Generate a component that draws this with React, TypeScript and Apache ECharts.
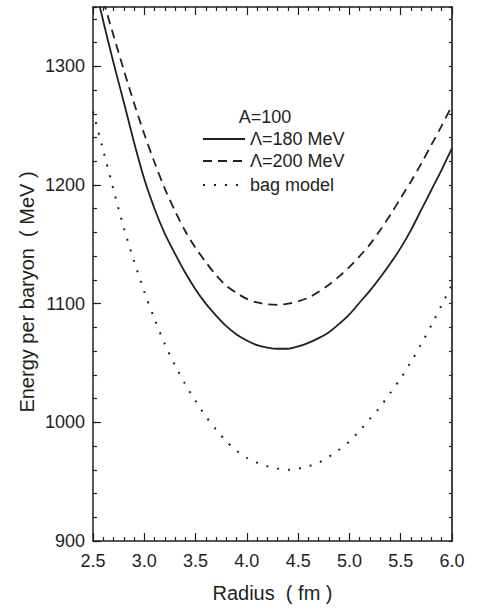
import React, { useEffect, useRef } from "react";
import * as echarts from "echarts";

const radius = [2.5, 2.6, 2.7, 2.8, 2.9, 3.0, 3.1, 3.2, 3.3, 3.4, 3.5, 3.6, 3.7, 3.8, 3.9, 4.0, 4.1, 4.2, 4.3, 4.4, 4.5, 4.6, 4.7, 4.8, 4.9, 5.0, 5.1, 5.2, 5.3, 5.4, 5.5, 5.6, 5.7, 5.8, 5.9, 6.0];
const lambda180 = [1375, 1338, 1303, 1270, 1236, 1205, 1180, 1159, 1142, 1126, 1112, 1100, 1090, 1081, 1074, 1069, 1065, 1063, 1062, 1062, 1064, 1067, 1071, 1076, 1083, 1091, 1101, 1111, 1122, 1134, 1147, 1162, 1179, 1196, 1213, 1231];
const lambda200 = [1392, 1356, 1326, 1297, 1269, 1243, 1219, 1197, 1178, 1161, 1147, 1135, 1124, 1115, 1109, 1104, 1101, 1099.5, 1099, 1100, 1102, 1105, 1110, 1116, 1123, 1131, 1140, 1150, 1162, 1175, 1189, 1203, 1218, 1234, 1250, 1267];
const bagModel = [1262, 1229, 1196, 1164, 1136, 1110, 1087, 1066, 1048, 1032, 1018, 1005, 994, 984, 976, 970, 966, 963, 961, 960, 961, 963, 966, 971, 977, 984, 993, 1003, 1013, 1025, 1037, 1051, 1066, 1082, 1099, 1116];

const xMin = 2.5, xMax = 6.0, xStep = 0.5;
const yMin = 900, yMax = 1350, yStep = 100, yMinorStep = 20;

const legendTitle = "A=100";
const legendNames = ["Λ=180 MeV", "Λ=200 MeV", "bag model"];
const xName = "Radius  ( fm )";
const yName = "Energy per baryon  ( MeV )";

const INK = "#231f20";
const FONT = "'Liberation Sans', Arial, sans-serif";

export default function App() {
  const ref = useRef<HTMLDivElement>(null);
  useEffect(() => {
    document.body.style.margin = "0";
    const chart = echarts.init(ref.current!, null, { renderer: "svg" });
    const pairs = (ys: number[]) => radius.map((x, i) => [x, ys[i]]);
    const lineStyles: any[] = [
      { color: INK, width: 1.8, type: "solid" },
      { color: INK, width: 1.8, type: [9, 6] },
      { color: INK, width: 2, type: [2, 9] },
    ];
    const legendY = [139, 161, 185];
    const graphic: any[] = [
      {
        type: "text",
        x: 265,
        y: 117,
        style: { text: legendTitle, font: `18px ${FONT}`, fill: INK, align: "center", verticalAlign: "middle" },
      },
      {
        type: "text",
        x: 27,
        y: 292,
        rotation: Math.PI / 2,
        style: { text: yName, font: `20px ${FONT}`, fill: INK, align: "center", verticalAlign: "middle" },
      },
    ];
    legendNames.forEach((name, i) => {
      const ls = lineStyles[i];
      graphic.push({
        type: "line",
        shape: { x1: 203, y1: legendY[i], x2: 245, y2: legendY[i] },
        style: {
          stroke: INK,
          lineWidth: ls.width,
          lineDash: ls.type === "solid" ? null : ls.type,
        },
      });
      graphic.push({
        type: "text",
        x: 250,
        y: legendY[i],
        style: {
          text: name,
          font: `18px ${FONT}`,
          fill: INK,
          align: "left",
          verticalAlign: "middle",
        },
      });
    });

    const axisLine = { show: true, lineStyle: { color: INK, width: 1.5 } };
    chart.setOption({
      animation: false,
      grid: { left: 93, right: 25, top: 7, bottom: 69, containLabel: false },
      graphic,
      xAxis: [
        {
          type: "value",
          min: xMin,
          max: xMax,
          interval: xStep,
          position: "bottom",
          axisLine,
          axisTick: { show: true, inside: true, length: 8, lineStyle: { color: INK, width: 1.2 } },
          minorTick: { show: true, splitNumber: 5, length: 4, lineStyle: { color: INK, width: 1.2 } },
          splitLine: { show: false },
          axisLabel: {
            color: INK,
            fontSize: 18,
            fontFamily: FONT,
            margin: 11,
            formatter: (v: number) => v.toFixed(1),
          },
          name: xName,
          nameLocation: "middle",
          nameGap: 42,
          nameTextStyle: { color: INK, fontSize: 20, fontFamily: FONT },
        },
        {
          type: "value",
          min: xMin,
          max: xMax,
          interval: xStep,
          position: "top",
          axisLine,
          axisTick: { show: true, inside: true, length: 8, lineStyle: { color: INK, width: 1.2 } },
          minorTick: { show: true, splitNumber: 5, length: 4, lineStyle: { color: INK, width: 1.2 } },
          splitLine: { show: false },
          axisLabel: { show: false },
        },
      ],
      yAxis: [
        {
          type: "value",
          min: yMin,
          max: yMax,
          interval: yStep,
          position: "left",
          axisLine,
          axisTick: { show: true, inside: true, length: 8, lineStyle: { color: INK, width: 1.2 } },
          minorTick: { show: false },
          splitLine: { show: false },
          axisLabel: {
            color: INK,
            fontSize: 18,
            fontFamily: FONT,
            margin: 8,
            showMaxLabel: false,
            formatter: (v: number) => (v % 100 === 0 ? String(v) : ""),
          },
        },
        {
          type: "value",
          min: yMin,
          max: yMax,
          interval: yMinorStep,
          position: "left",
          axisLine: { show: false },
          axisTick: { show: true, inside: true, length: 4, lineStyle: { color: INK, width: 1.2 } },
          splitLine: { show: false },
          axisLabel: { show: false },
        },
        {
          type: "value",
          min: yMin,
          max: yMax,
          interval: yMinorStep,
          position: "right",
          axisLine: { show: true, lineStyle: { color: "#444", width: 2 } },
          axisTick: { show: true, inside: true, length: 3, lineStyle: { color: INK, width: 1.2 } },
          splitLine: { show: false },
          axisLabel: { show: false },
        },
      ],
      series: [
        { name: legendNames[0], data: pairs(lambda180), lineStyle: lineStyles[0] },
        { name: legendNames[1], data: pairs(lambda200), lineStyle: lineStyles[1] },
        { name: legendNames[2], data: pairs(bagModel), lineStyle: lineStyles[2] },
      ].map((s) => ({
        ...s,
        type: "line",
        xAxisIndex: 0,
        yAxisIndex: 0,
        symbol: "none",
        smooth: 0.3,
        clip: true,
        itemStyle: { color: INK },
      })),
    });
    return () => chart.dispose();
  }, []);
  return <div ref={ref} style={{ width: 477, height: 610 }} />;
}
